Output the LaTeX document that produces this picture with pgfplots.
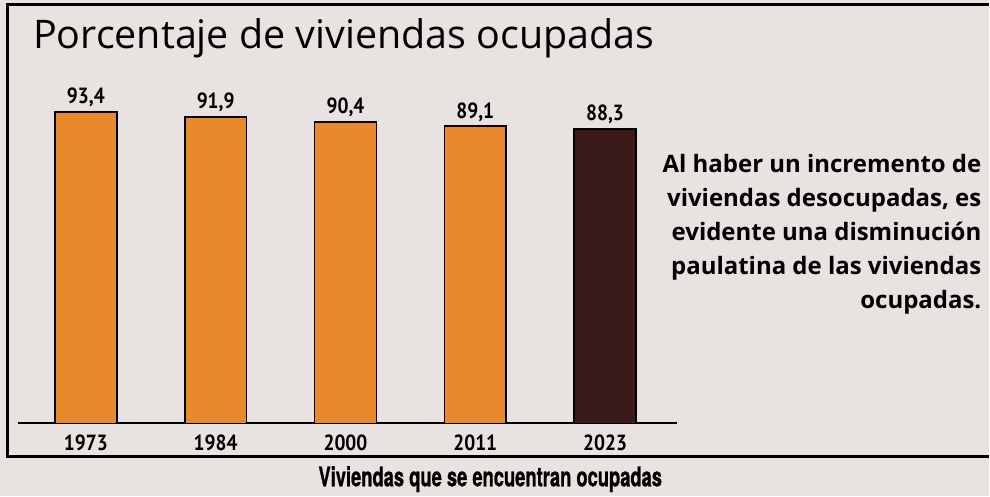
\documentclass[border=0pt]{standalone}
\usepackage{pgfplots}
\pgfplotsset{compat=1.18}
\usepackage{fontspec}
\setmainfont{Open Sans}
\newfontfamily\numfont[FakeStretch=0.88]{PT Sans}
\newfontfamily\capfont[FakeStretch=0.68, FakeBold=0.8]{TeX Gyre Heros}
\definecolor{bg}{HTML}{E8E2E1}
\definecolor{barorange}{HTML}{E8892C}
\definecolor{bardark}{HTML}{3A1B19}
\begin{document}
\begin{tikzpicture}[x=1pt,y=1pt]
\fill[bg] (0,0) rectangle (990,497);
\draw[line width=3pt] (990,492) -- (8,492) -- (8,40) -- (990,40);
\node[anchor=base west, inner sep=0pt, font=\fontsize{39.5}{42}\selectfont] at (33,448) {Porcentaje de viviendas ocupadas};
\begin{axis}[at={(18pt,73pt)}, anchor=south west, scale only axis,
  width=660pt, height=334pt,
  xmin=-0.523, xmax=4.554, ymin=0, ymax=100,
  axis x line*=bottom, axis y line=none,
  x axis line style={line width=1.8pt, -},
  xtick={0,1,2,3,4}, xticklabels={1973,1984,2000,2011,2023},
  major tick length=0pt,
  xticklabel style={anchor=base, yshift=-27pt, font=\numfont\bfseries\fontsize{22}{23}\selectfont},
  ybar, bar width=62pt,
  nodes near coords,
  every node near coord/.append style={anchor=base, yshift=8pt, font=\numfont\bfseries\fontsize{22}{23}\selectfont},
  /pgf/number format/.cd, use comma, fixed, fixed zerofill, precision=1, assume math mode=true,
  ]
\addplot[bar shift=0pt, fill=barorange, draw=black, line width=1.6pt] coordinates {(0,93.4) (1,91.9) (2,90.4) (3,89.1)};
\addplot[bar shift=0pt, fill=bardark, draw=black, line width=1.6pt] coordinates {(4,88.3)};
\end{axis}
\begin{scope}[every node/.style={anchor=base east, inner sep=0pt, font=\bfseries\fontsize{24}{30}\selectfont}]
\node at (983,324) {Al haber un incremento de};
\node at (983,290) {viviendas desocupadas, es};
\node at (983,256) {evidente una disminución};
\node at (983,222) {paulatina de las viviendas};
\node at (983,188) {ocupadas.};
\end{scope}
\node[anchor=base, inner sep=0pt, font=\capfont\bfseries\fontsize{27}{28}\selectfont] at (491,10) {Viviendas que se encuentran ocupadas};
\end{tikzpicture}
\end{document}
